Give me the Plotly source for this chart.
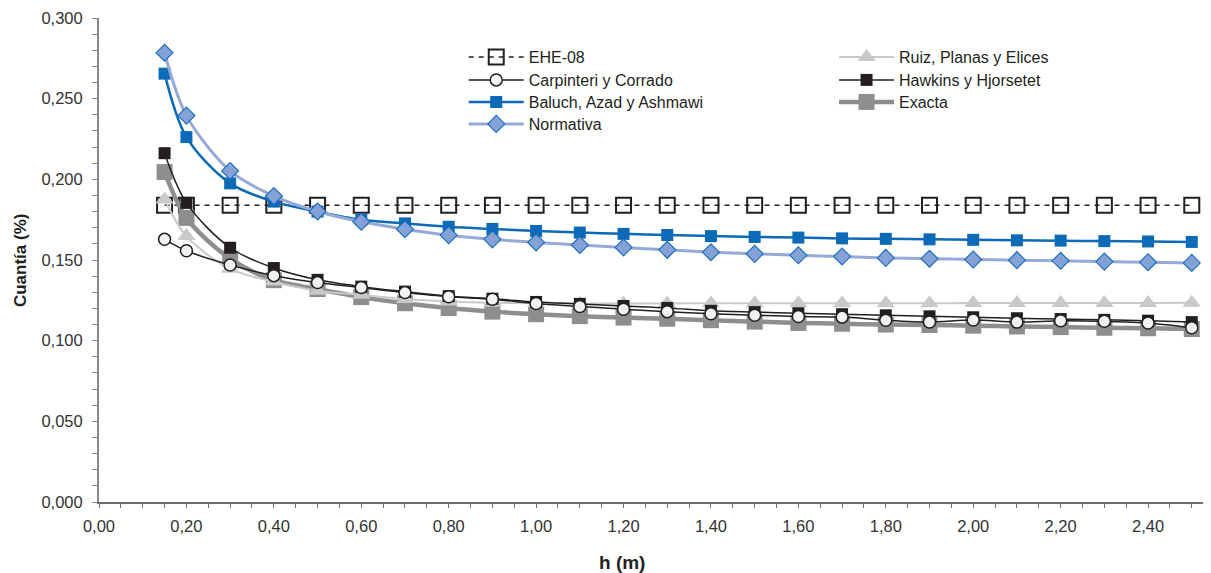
import plotly.graph_objects as go

h = [0.15, 0.20, 0.30, 0.40, 0.50, 0.60, 0.70, 0.80, 0.90, 1.00, 1.10, 1.20, 1.30,
     1.40, 1.50, 1.60, 1.70, 1.80, 1.90, 2.00, 2.10, 2.20, 2.30, 2.40, 2.50]

ehe08 = [0.184, 0.184, 0.184, 0.184, 0.184, 0.184, 0.184, 0.184, 0.184, 0.184, 0.184, 0.184, 0.184,
         0.184, 0.184, 0.184, 0.184, 0.184, 0.184, 0.184, 0.184, 0.184, 0.184, 0.184, 0.184]

carpinteri = [0.1628, 0.1557, 0.1469, 0.1403, 0.1360, 0.1329, 0.1298, 0.1272, 0.1257, 0.1230, 0.1212,
              0.1195, 0.1180, 0.1167, 0.1158, 0.1150, 0.1146, 0.1127, 0.1116, 0.1128, 0.1115, 0.1123,
              0.1120, 0.1110, 0.1080]

baluch = [0.2655, 0.2262, 0.1975, 0.1862, 0.1800, 0.1750, 0.1727, 0.1706, 0.1692, 0.1680, 0.1670,
          0.1662, 0.1655, 0.1648, 0.1643, 0.1639, 0.1634, 0.1631, 0.1628, 0.1625, 0.1622, 0.1620,
          0.1617, 0.1615, 0.1612]

normativa = [0.2785, 0.2395, 0.2052, 0.1896, 0.1801, 0.1737, 0.1691, 0.1654, 0.1628, 0.1609, 0.1593,
             0.1578, 0.1563, 0.1548, 0.1538, 0.1529, 0.1522, 0.1513, 0.1508, 0.1503, 0.1499, 0.1495,
             0.1490, 0.1486, 0.1482]

ruiz = [0.1875, 0.1648, 0.1445, 0.1366, 0.1310, 0.1284, 0.1258, 0.1243, 0.1235, 0.1232, 0.1231,
        0.1231, 0.1231, 0.1232, 0.1232, 0.1232, 0.1232, 0.1232, 0.1232, 0.1233, 0.1233, 0.1233,
        0.1233, 0.1234, 0.1235]

hawkins = [0.2162, 0.1854, 0.1576, 0.1450, 0.1377, 0.1335, 0.1304, 0.1276, 0.1260, 0.1240, 0.1228,
           0.1215, 0.1203, 0.1185, 0.1177, 0.1170, 0.1164, 0.1157, 0.1151, 0.1145, 0.1139, 0.1134,
           0.1129, 0.1124, 0.1115]

exacta = [0.2045, 0.1761, 0.1508, 0.1375, 0.1320, 0.1270, 0.1232, 0.1202, 0.1180, 0.1164, 0.1152,
          0.1143, 0.1136, 0.1127, 0.1118, 0.1110, 0.1105, 0.1100, 0.1097, 0.1093, 0.1088, 0.1084,
          0.1080, 0.1077, 0.1072]

DARK = "#231f20"
FONT = "Liberation Sans, Arial, sans-serif"

fig = go.Figure()

def add(name, y, color, width, symbol, size, mfill, mline, mlw, legend, dash=None, smooth=True):
    fig.add_trace(go.Scatter(
        x=h, y=y, name=name, mode="lines+markers",
        line=dict(color=color, width=width, dash=dash,
                  shape="spline" if smooth else "linear", smoothing=0.9),
        marker=dict(symbol=symbol, size=size, color=mfill, line=dict(color=mline, width=mlw)),
        legend=legend,
    ))

# drawing order (bottom -> top); each legend entry sits in its own legend box
add("EHE-08", ehe08, DARK, 1.5, "square-open", 15, DARK, DARK, 2, "legend", dash="5px,5px", smooth=False)
add("Exacta", exacta, "#8e8e90", 4.5, "square", 16, "#8e8e90", "#8e8e90", 0, "legend7")
add("Ruiz, Planas y Elices", ruiz, "#c9c9c9", 2, "triangle-up", 16, "#c9c9c9", "#c9c9c9", 0, "legend5")
add("Hawkins y Hjorsetet", hawkins, DARK, 1.5, "square", 12, DARK, DARK, 0, "legend6")
add("Carpinteri y Corrado", carpinteri, DARK, 1.5, "circle", 12, "#f0f2f4", DARK, 1.5, "legend2")
add("Baluch, Azad y Ashmawi", baluch, "#0d6ab7", 2.5, "square", 12, "#0d6ab7", "#0d6ab7", 0, "legend3")
add("Normativa", normativa, "#94a9d9", 3, "diamond", 13, "#84a2d6", "#1f6fc0", 1.2, "legend4")

AX = "#8a8a8a"
XR = [0, 2.544]
YR = [0, 0.3]

ROWS = [0.9194, 0.8719, 0.8264, 0.7810]
COL1, COL2 = 0.328, 0.661

def leg(x, y):
    return dict(x=x, y=y, xanchor="left", yanchor="middle", bgcolor="rgba(0,0,0,0)",
                font=dict(size=16, color=DARK, family=FONT), itemwidth=55,
                borderwidth=0)

fig.update_layout(
    width=1203, height=565, autosize=False,
    margin=dict(l=91, r=0, t=10, b=71),
    plot_bgcolor="white", paper_bgcolor="white",
    separators=",.",
    font=dict(family=FONT, color="#333333", size=16),
    xaxis=dict(range=XR, showgrid=False, zeroline=False, showline=True, linecolor="#6e6e6e",
               linewidth=1.5, ticks="outside", ticklen=4, tickcolor="#6e6e6e", tickwidth=1.2,
               tickvals=[0, 0.2, 0.4, 0.6, 0.8, 1.0, 1.2, 1.4, 1.6, 1.8, 2.0, 2.2, 2.4],
               tickformat=".2f", tickfont=dict(size=16.5, color="#333333"), ticklabelstandoff=4,
               minor=dict(ticks="outside", ticklen=4, dtick=0.05, tickcolor="#6e6e6e", tickwidth=1)),
    yaxis=dict(range=YR, showgrid=False, zeroline=False, showline=True, linecolor=AX,
               linewidth=2, ticks="outside", ticklen=5, tickcolor=AX, tickwidth=1.2,
               dtick=0.05, tickformat=".3f", tickfont=dict(size=16.5, color="#333333"),
               ticklabelstandoff=6,
               minor=dict(ticks="outside", ticklen=5, dtick=0.01, tickcolor=AX, tickwidth=1)),
    xaxis2=dict(range=XR, overlaying="x", anchor="y", side="bottom", showgrid=False,
                zeroline=False, showline=False, ticks="inside", ticklen=6, tickcolor="#6e6e6e",
                tickwidth=1.2, dtick=0.2, tick0=0, showticklabels=False),
    yaxis2=dict(range=YR, overlaying="y", anchor="x", side="left", showgrid=False,
                zeroline=False, showline=False, ticks="inside", ticklen=6, tickcolor=AX,
                tickwidth=1.2, dtick=0.05, tick0=0, showticklabels=False),
    legend=leg(COL1, ROWS[0]),
    legend2=leg(COL1, ROWS[1]),
    legend3=leg(COL1, ROWS[2]),
    legend4=leg(COL1, ROWS[3]),
    legend5=leg(COL2, ROWS[0]),
    legend6=leg(COL2, ROWS[1]),
    legend7=leg(COL2, ROWS[2]),
    showlegend=True,
    annotations=[
        dict(text="<b>Cuantía (%)</b>", xref="paper", yref="paper", x=-0.071, y=0.5,
             textangle=-90, showarrow=False, font=dict(size=17, color=DARK, family=FONT),
             xanchor="center", yanchor="middle"),
        dict(text="<b>h (m)</b>", xref="paper", yref="paper", x=0.47, y=-0.126,
             showarrow=False, font=dict(size=19, color=DARK, family=FONT),
             xanchor="center", yanchor="middle"),
    ],
)

fig.write_html("out.html")
